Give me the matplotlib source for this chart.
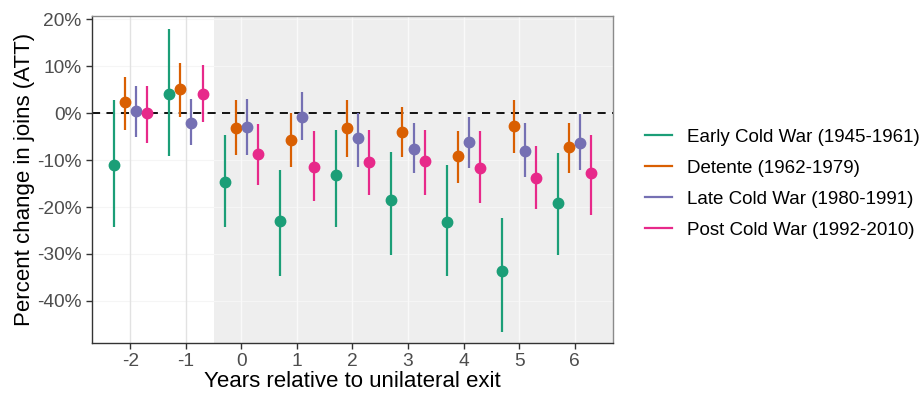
import numpy as np
import matplotlib
matplotlib.use("Agg")
import matplotlib.pyplot as plt
from matplotlib.lines import Line2D
from matplotlib.ticker import FuncFormatter

plt.rcParams['font.family'] = ['Liberation Sans', 'DejaVu Sans']
plt.rcParams['axes.unicode_minus'] = False

# event time
years = [-2, -1, 0, 1, 2, 3, 4, 5, 6]

periods = ["Early Cold War (1945-1961)", "Detente (1962-1979)",
           "Late Cold War (1980-1991)", "Post Cold War (1992-2010)"]
colors = ["#1B9E77", "#D95F02", "#7570B3", "#E7298A"]

# point estimates (percent)
early_est = [-11.0, 4.0, -14.6, -22.9, -13.2, -18.5, -23.1, -33.6, -19.1]
detente_est = [2.3, 5.2, -3.1, -5.7, -3.1, -4.0, -9.1, -2.7, -7.1]
late_est = [0.4, -2.0, -2.9, -0.7, -5.3, -7.6, -6.2, -8.0, -6.3]
post_est = [0.0, 4.2, -8.7, -11.4, -10.5, -10.2, -11.6, -13.9, -12.8]

# confidence interval lows / highs
early_lo = [-24.2, -9.2, -24.2, -34.8, -24.2, -30.2, -34.6, -46.6, -30.2]
early_hi = [2.8, 17.9, -4.6, -12.1, -3.6, -8.2, -11.0, -22.4, -8.4]
detente_lo = [-3.6, -0.7, -8.9, -11.4, -9.3, -9.3, -14.8, -8.5, -12.7]
detente_hi = [7.8, 10.7, 2.8, 0.1, 2.8, 1.4, -3.7, 2.8, -2.1]
late_lo = [-5.0, -6.8, -8.9, -5.7, -11.4, -12.7, -11.7, -13.5, -12.2]
late_hi = [5.7, 3.1, 3.0, 4.6, 0.1, -2.0, -0.9, -2.0, -0.1]
post_lo = [-6.3, -1.8, -15.3, -18.8, -17.4, -17.4, -19.2, -20.5, -21.7]
post_hi = [5.8, 10.3, -2.3, -3.7, -3.6, -3.6, -3.7, -6.9, -4.6]

ests = [early_est, detente_est, late_est, post_est]
los = [early_lo, detente_lo, late_lo, post_lo]
his = [early_hi, detente_hi, late_hi, post_hi]
offsets = [-0.3, -0.1, 0.1, 0.3]

fig = plt.figure(figsize=(9.22, 3.93), dpi=100)
ax = fig.add_axes([0.0998, 0.127, 0.565, 0.832])

xlim = (-2.69, 6.69)
ylim = (-49.0, 20.7)
ax.set_xlim(*xlim)
ax.set_ylim(*ylim)

# shaded post-treatment region
ax.axvspan(-0.5, xlim[1], color="#EEEEEE", zorder=0, lw=0)

# grid lines
for yv in [-40, -30, -20, -10, 0, 10, 20]:
    ax.axhline(yv, color="#F5F5F5", lw=0.8, zorder=0.5)
for xv in years:
    c = "#E2E2E2" if xv < -0.5 else "#F9F9F9"
    ax.axvline(xv, color=c, lw=1.0, zorder=0.6)

ax.axhline(0, color="black", lw=1.3, ls=(0, (4.5, 3.5)), zorder=2)

x = np.array(years, dtype=float)
for est, lo, hi, off, col in zip(ests, los, his, offsets, colors):
    xx = x + off
    ax.vlines(xx, lo, hi, color=col, lw=1.6, zorder=3)
    ax.plot(xx, est, "o", color=col, ms=7.5, zorder=4, mec=col)

ax.set_xticks(years)
ax.set_yticks([-40, -30, -20, -10, 0, 10, 20])
ax.yaxis.set_major_formatter(FuncFormatter(lambda v, p: f"{int(v)}%"))
ax.tick_params(axis="both", labelsize=13.8, colors="#333333", labelcolor="#4D4D4D",
               length=4, width=1.0)
ax.tick_params(axis="x", pad=3)

ax.set_xlabel("Years relative to unilateral exit", fontsize=16, labelpad=1)
ax.set_ylabel("Percent change in joins (ATT)", fontsize=16, labelpad=1.5)

for s in ["top", "right"]:
    ax.spines[s].set_color("#8A8A8A")
    ax.spines[s].set_linewidth(1.0)
for s in ["left", "bottom"]:
    ax.spines[s].set_color("#333333")
    ax.spines[s].set_linewidth(1.0)

handles = [Line2D([0], [0], color=c, lw=1.6) for c in colors]
fig.legend(handles, periods, loc="center left", bbox_to_anchor=(0.6996, 0.533),
           frameon=False, fontsize=13.5, handlelength=1.44, handletextpad=0.8,
           labelspacing=0.74, borderpad=0, borderaxespad=0)

fig.savefig("out.png", dpi=100)
